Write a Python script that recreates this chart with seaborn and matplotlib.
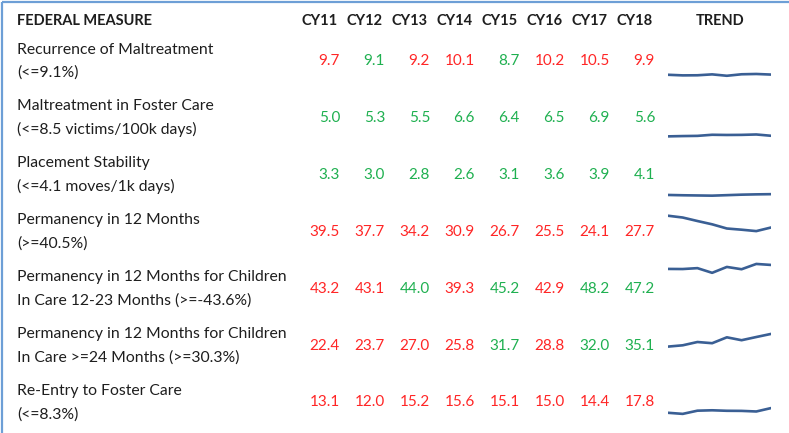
import matplotlib.pyplot as plt
import seaborn as sns
import pandas as pd
import numpy as np

# Table data
years = ['CY11', 'CY12', 'CY13', 'CY14', 'CY15', 'CY16', 'CY17', 'CY18']
measures = [
    'Recurrence of Maltreatment\n(<=9.1%)',
    'Maltreatment in Foster Care\n(<=8.5 victims/100k days)',
    'Placement Stability\n(<=4.1 moves/1k days)',
    'Permanency in 12 Months\n(>=40.5%)',
    'Permanency in 12 Months for Children\nIn Care 12-23 Months (>=-43.6%)',
    'Permanency in 12 Months for Children\nIn Care >=24 Months (>=30.3%)',
    'Re-Entry to Foster Care\n(<=8.3%)',
]
targets = [9.1, 8.5, 4.1, 40.5, 43.6, 30.3, 8.3]
lower_is_better = [True, True, True, False, False, False, True]

recurrence = [9.7, 9.1, 9.2, 10.1, 8.7, 10.2, 10.5, 9.9]
foster_maltreat = [5.0, 5.3, 5.5, 6.6, 6.4, 6.5, 6.9, 5.6]
stability = [3.3, 3.0, 2.8, 2.6, 3.1, 3.6, 3.9, 4.1]
perm_12 = [39.5, 37.7, 34.2, 30.9, 26.7, 25.5, 24.1, 27.7]
perm_12_23 = [43.2, 43.1, 44.0, 39.3, 45.2, 42.9, 48.2, 47.2]
perm_24 = [22.4, 23.7, 27.0, 25.8, 31.7, 28.8, 32.0, 35.1]
reentry = [13.1, 12.0, 15.2, 15.6, 15.1, 15.0, 14.4, 17.8]
rows = [recurrence, foster_maltreat, stability, perm_12, perm_12_23, perm_24, reentry]

sns.set_theme(style="white")
plt.rcParams['font.family'] = ['Lato', 'DejaVu Sans']

W, H = 789, 433
fig = plt.figure(figsize=(W / 100, H / 100), dpi=100)
ax = fig.add_axes([0, 0, 1, 1])
ax.set_xlim(0, W)
ax.set_ylim(H, 0)
ax.axis('off')

RED = '#ff2626'
GREEN = '#1fb050'
TEXT = '#1e1e1e'
SPARK = '#3a5f94'
fs_head = 10.5
fs_label = 11.3
fs_val = 11

# border (top and left)
ax.plot([2, W], [2, 2], color='#6d9fd6', lw=1.6, solid_capstyle='butt')
ax.plot([2, 2], [2, H], color='#6d9fd6', lw=1.6, solid_capstyle='butt')

col_right = [340 + 45 * i for i in range(len(years))]
row_h = 56.9
row_c = [61 + row_h * i for i in range(len(rows))]

# header
ax.text(17, 21, 'FEDERAL MEASURE', fontsize=fs_head, fontweight='bold', color=TEXT, va='center', ha='left')
for x, yr in zip(col_right, years):
    ax.text(x - 2, 21, yr, fontsize=fs_head, fontweight='bold', color=TEXT, va='center', ha='right')
ax.text(720, 21, 'TREND', fontsize=fs_head, fontweight='bold', color=TEXT, va='center', ha='center')

for i, (label, vals) in enumerate(zip(measures, rows)):
    yc = row_c[i]
    l1, l2 = label.split('\n')
    ax.text(17, yc - 11.5, l1, fontsize=fs_label, color=TEXT, va='center', ha='left')
    ax.text(17, yc + 12, l2, fontsize=fs_label, color=TEXT, va='center', ha='left')
    for x, v in zip(col_right, vals):
        ok = v <= targets[i] if lower_is_better[i] else v >= targets[i]
        ax.text(x, yc, f'{v:.1f}', fontsize=fs_val, color=GREEN if ok else RED, va='center', ha='right')

    # sparkline in its own cell, common vertical scale
    top = yc - row_h / 2
    sax = fig.add_axes([668 / W, 1 - (top + row_h) / H, (771 - 668) / W, row_h / H])
    df = pd.DataFrame({'i': np.arange(len(years)), 'v': vals})
    sns.lineplot(data=df, x='i', y='v', ax=sax, color=SPARK, lw=1.9)
    sax.set_xlim(0, len(years) - 1)
    sax.set_ylim(-5, 52)
    sax.axis('off')
    sax.patch.set_alpha(0)

fig.savefig('out.png', dpi=100)
